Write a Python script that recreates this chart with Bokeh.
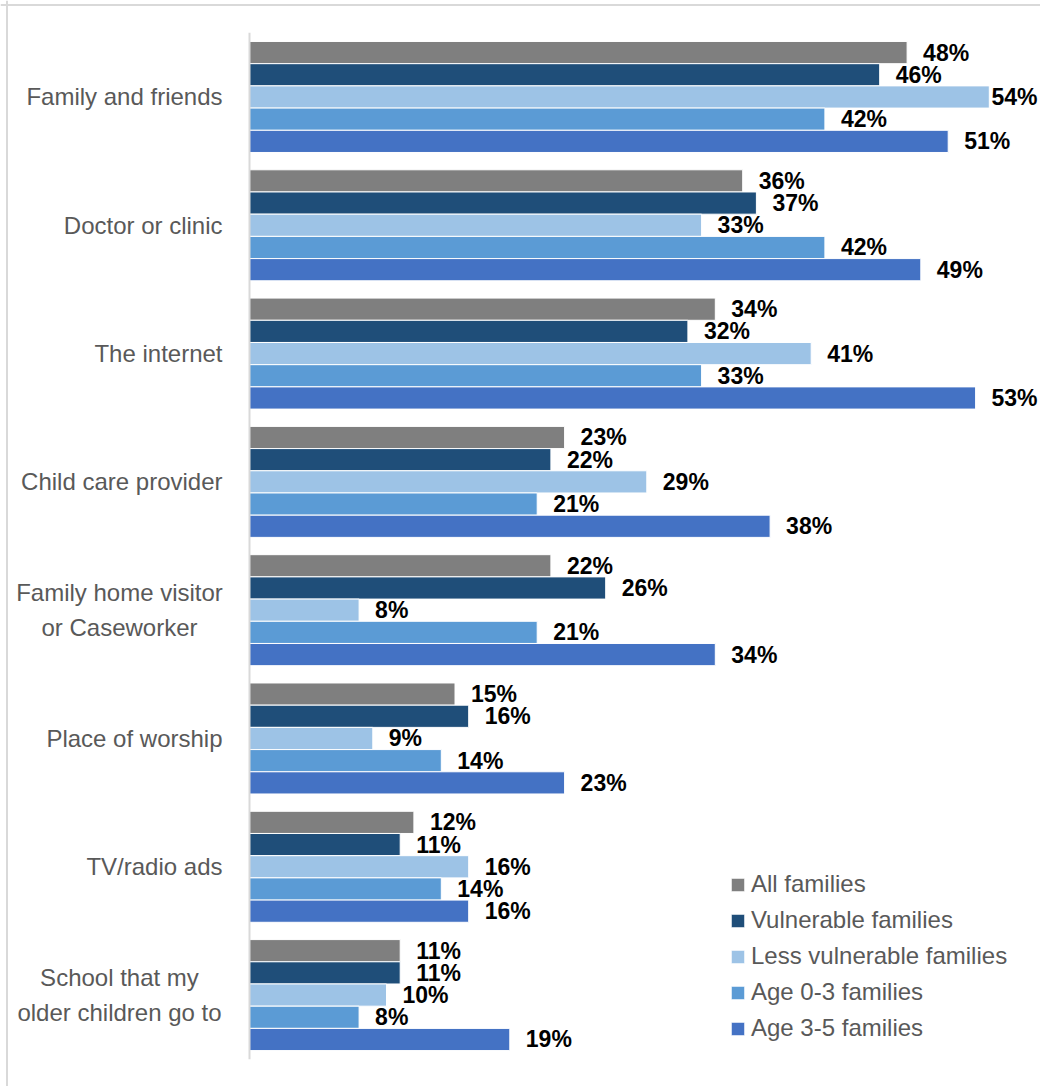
from bokeh.plotting import figure
from bokeh.models import ColumnDataSource, Range1d, Span, Legend, LegendItem
from bokeh.core.properties import value
from bokeh.embed import file_html
from bokeh.resources import INLINE

# ---------------- data ----------------
categories = [
    "Family and friends",
    "Doctor or clinic",
    "The internet",
    "Child care provider",
    "Family home visitor\nor Caseworker",
    "Place of worship",
    "TV/radio ads",
    "School that my\nolder children go to",
]
series_names = [
    "All families",
    "Vulnerable families",
    "Less vulnerable families",
    "Age 0-3 families",
    "Age 3-5 families",
]
all_families = [48, 36, 34, 23, 22, 15, 12, 11]
vulnerable_families = [46, 37, 32, 22, 26, 16, 11, 11]
less_vulnerable_families = [54, 33, 41, 29, 8, 9, 16, 10]
age_0_3_families = [42, 42, 33, 21, 21, 14, 14, 8]
age_3_5_families = [51, 49, 53, 38, 34, 23, 16, 19]
series_values = [all_families, vulnerable_families, less_vulnerable_families,
                 age_0_3_families, age_3_5_families]
colors = ["#7F7F7F", "#1F4E79", "#9DC3E6", "#5B9BD5", "#4472C4"]

# ---------------- layout constants ----------------
W, H = 1040, 1086
PX_PER_UNIT = 13.7          # px per percentage point
AXIS_SCREEN_X = 249         # axis position inside figure (px)
CAT_PX = 128.3              # px per category
TOP_PAD = -0.252            # category units above first group

x_start = -AXIS_SCREEN_X / PX_PER_UNIT
x_end = x_start + W / PX_PER_UNIT
y_top = TOP_PAD
y_bottom = y_top + H / CAT_PX

FONT = "Liberation Sans"

p = figure(width=W, height=H, output_backend="svg", toolbar_location=None,
           x_range=Range1d(x_start, x_end), y_range=Range1d(y_bottom, y_top),
           x_axis_location=None, y_axis_location=None, min_border=0)
p.outline_line_color = None
p.background_fill_color = "white"
p.border_fill_color = "white"
p.xgrid.grid_line_color = None
p.ygrid.grid_line_color = None

n_series = len(series_names)
bar_h = 22.2 / CAT_PX

renderers = []
for j, (name, vals, col) in enumerate(zip(series_names, series_values, colors)):
    ys = [i + 0.5 + (j - (n_series - 1) / 2) * bar_h for i in range(len(categories))]
    src = ColumnDataSource(dict(y=ys, v=vals))
    r = p.hbar(y="y", left=0, right="v", height=bar_h, source=src,
               fill_color=col, line_color="white", line_width=1)
    renderers.append(r)

# value labels (placed to the right of each bar, kept inside the chart)
label_gap = 16 / PX_PER_UNIT
label_w = 46 / PX_PER_UNIT
x_limit = (1037 - AXIS_SCREEN_X) / PX_PER_UNIT
for j, vals in enumerate(series_values):
    ys = [i + 0.5 + (j - (n_series - 1) / 2) * bar_h for i in range(len(categories))]
    xs = [min(v + label_gap, x_limit - label_w) for v in vals]
    txt = [f"{v}%" for v in vals]
    src = ColumnDataSource(dict(x=xs, y=ys, t=txt))
    p.text(x="x", y="y", text="t", source=src, text_font=value(FONT),
           text_font_style="bold", text_font_size="23px", text_color="black",
           text_align="left", text_baseline="middle")

# category labels
right_edge = -27 / PX_PER_UNIT
single = [(c, i + 0.5) for i, c in enumerate(categories) if "\n" not in c]
multi = [(c, i + 0.5) for i, c in enumerate(categories) if "\n" in c]
src1 = ColumnDataSource(dict(x=[right_edge] * len(single), y=[s[1] for s in single],
                             t=[s[0] for s in single]))
p.text(x="x", y="y", text="t", source=src1, text_font=value(FONT),
       text_font_size="24px", text_color="#595959", text_align="right",
       text_baseline="middle")
src2 = ColumnDataSource(dict(x=[right_edge - 103 / PX_PER_UNIT] * len(multi),
                             y=[s[1] for s in multi], t=[s[0] for s in multi]))
p.text(x="x", y="y", text="t", source=src2, text_font=value(FONT),
       text_font_size="24px", text_color="#595959", text_align="center",
       text_baseline="middle", text_line_height=1.3)

# vertical axis line
p.segment(x0=[0], y0=[0], x1=[0], y1=[len(categories)], line_color="#D9D9D9",
          line_width=2)

# chart border (top/left visible in the crop)
p.add_layout(Span(location=x_start + 6.5 / PX_PER_UNIT, dimension="height",
                  line_color="#D9D9D9", line_width=2))
p.add_layout(Span(location=y_top + 4.5 / CAT_PX, dimension="width",
                  line_color="#D9D9D9", line_width=2))

legend = Legend(items=[LegendItem(label=n, renderers=[r]) for n, r in zip(series_names, renderers)],
                location=(729, 40), orientation="vertical",
                glyph_width=17, glyph_height=17, label_standoff=5, spacing=0,
                padding=0, margin=0, label_height=36,
                label_text_font=FONT, label_text_font_size="24px",
                label_text_color="#595959", border_line_color=None,
                background_fill_alpha=0)
p.add_layout(legend)

open("out.html", "w").write(file_html(p, INLINE))
